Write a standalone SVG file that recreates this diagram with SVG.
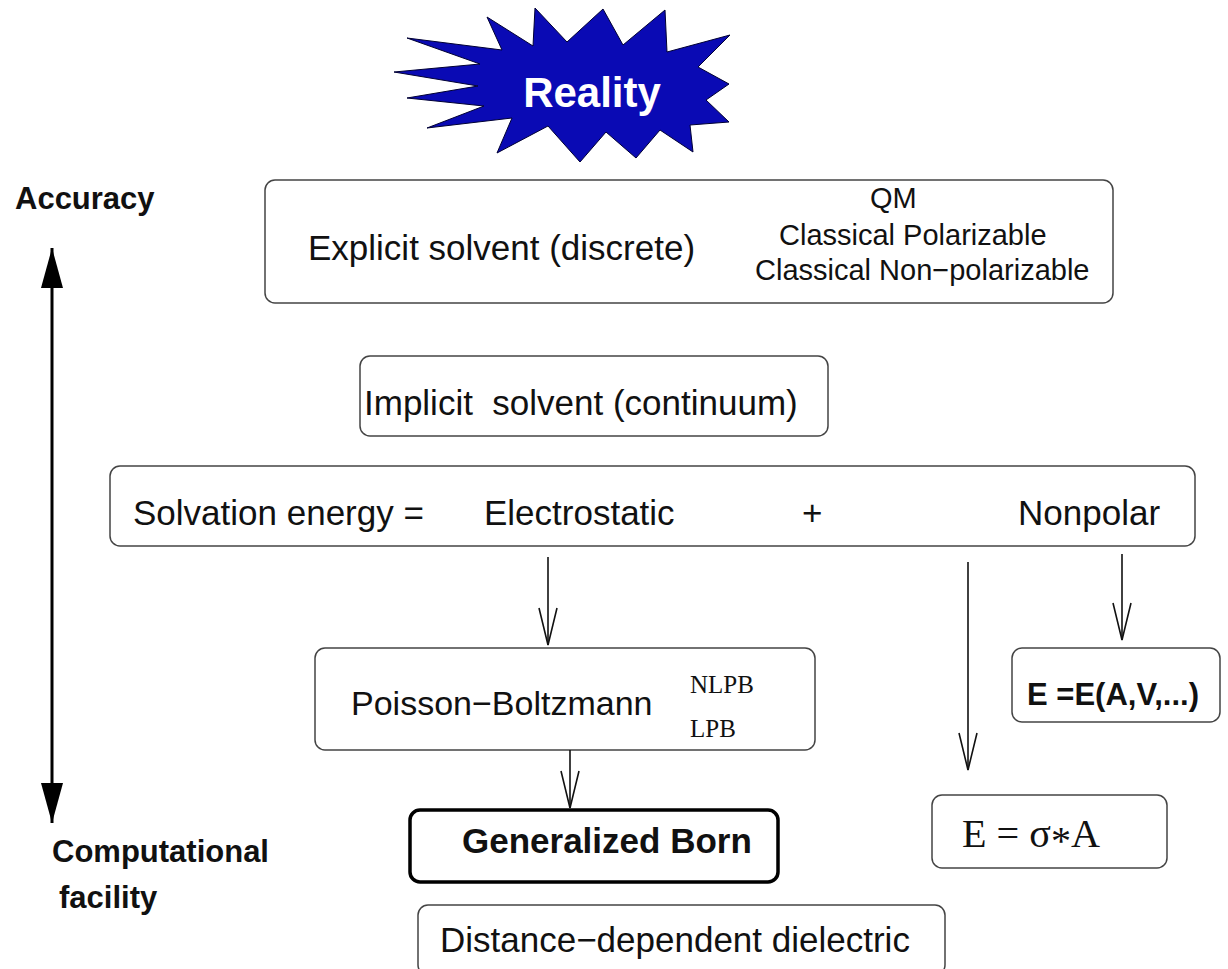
<svg xmlns="http://www.w3.org/2000/svg" width="1228" height="969" viewBox="0 0 1228 969">
<style>
.box{fill:#fff;stroke:#444;stroke-width:1.5}
.t{font-family:"Liberation Sans",Arial,sans-serif;fill:#111}
.b{font-family:"Liberation Sans",Arial,sans-serif;font-weight:bold;fill:#111}
.s{font-family:"Liberation Serif","Times New Roman",serif;fill:#111}
.conn{stroke:#111;stroke-width:1.6;fill:none}
</style>
<defs>
<marker id="v" markerUnits="userSpaceOnUse" markerWidth="60" markerHeight="30" refX="0" refY="0" orient="auto" overflow="visible">
<path d="M-37,-9 L0,0 L-37,9" fill="none" stroke="#111" stroke-width="1.6"/>
</marker>
<marker id="tri" markerUnits="userSpaceOnUse" markerWidth="60" markerHeight="30" refX="0" refY="0" orient="auto-start-reverse" overflow="visible">
<path d="M-40,-11 L0,0 L-40,11 Z" fill="#000"/>
</marker>
</defs>
<rect width="1228" height="969" fill="#fff"/>

<g id="reality">
<polygon points="487,17 533,46 535,8 567,42 603,9 623,45 665,10 667,52 730,35 698,67 729,84 706,100 729,122 690,125 693,152 660,130 636,158 606,132 580,162 548,126 497,153 512,118 427,128 484,106 407,98 478,86 394,72 480,64 407,38 502,50" fill="#0a0ab4" stroke="#000033" stroke-width="1"/>
<text x="592" y="107" class="b" font-size="42" style="fill:#fff" text-anchor="middle">Reality</text>
</g>

<g id="axis">
<line x1="52" y1="248" x2="52" y2="823" stroke="#000" stroke-width="3" marker-start="url(#tri)" marker-end="url(#tri)"/>
<text x="15" y="209" class="b" font-size="31">Accuracy</text>
<text x="52" y="862" class="b" font-size="31">Computational</text>
<text x="59" y="908" class="b" font-size="31">facility</text>
</g>

<g id="explicit">
<rect x="265" y="180" width="848" height="123" rx="10" class="box"/>
<text x="308" y="260" class="t" font-size="35">Explicit solvent (discrete)</text>
<text x="870" y="208" class="t" font-size="29">QM</text>
<text x="779" y="245" class="t" font-size="29">Classical Polarizable</text>
<text x="755" y="280" class="t" font-size="29">Classical Non−polarizable</text>
</g>

<g id="implicit">
<rect x="360" y="356" width="468" height="80" rx="10" class="box"/>
<text x="364" y="415" class="t" font-size="35" style="white-space:pre">Implicit  solvent (continuum)</text>
</g>

<g id="solvation">
<rect x="110" y="466" width="1085" height="80" rx="10" class="box"/>
<text x="133" y="525" class="t" font-size="35">Solvation energy =</text>
<text x="484" y="525" class="t" font-size="35">Electrostatic</text>
<text x="802" y="525" class="t" font-size="35">+</text>
<text x="1018" y="525" class="t" font-size="35">Nonpolar</text>
</g>

<g id="poisson">
<rect x="315" y="648" width="500" height="102" rx="10" class="box"/>
<text x="351" y="715" class="t" font-size="34">Poisson−Boltzmann</text>
<text x="690" y="693" class="s" font-size="25">NLPB</text>
<text x="690" y="737" class="s" font-size="25">LPB</text>
</g>

<g id="gb">
<rect x="410" y="810" width="368" height="72" rx="10" fill="#fff" stroke="#000" stroke-width="3.5"/>
<text x="462" y="853" class="b" font-size="35">Generalized Born</text>
</g>

<g id="distance">
<rect x="418" y="905" width="527" height="70" rx="10" class="box"/>
<text x="440" y="952" class="t" font-size="35">Distance−dependent dielectric</text>
</g>

<g id="eav">
<rect x="1012" y="648" width="208" height="74" rx="10" class="box"/>
<text x="1027" y="705" class="b" font-size="31">E =E(A,V,...)</text>
</g>

<g id="esa">
<rect x="932" y="795" width="235" height="73" rx="10" class="box"/>
<text x="962" y="847" class="s" font-size="41" textLength="138" lengthAdjust="spacingAndGlyphs">E = σ<tspan dy="7">*</tspan><tspan dy="-7">A</tspan></text>
</g>

<g id="connectors">
<line x1="548" y1="557" x2="548" y2="645" class="conn" marker-end="url(#v)"/>
<line x1="968" y1="562" x2="968" y2="770" class="conn" marker-end="url(#v)"/>
<line x1="1122" y1="554" x2="1122" y2="640" class="conn" marker-end="url(#v)"/>
<line x1="570" y1="750" x2="570" y2="808" class="conn" marker-end="url(#v)"/>
</g>
</svg>
